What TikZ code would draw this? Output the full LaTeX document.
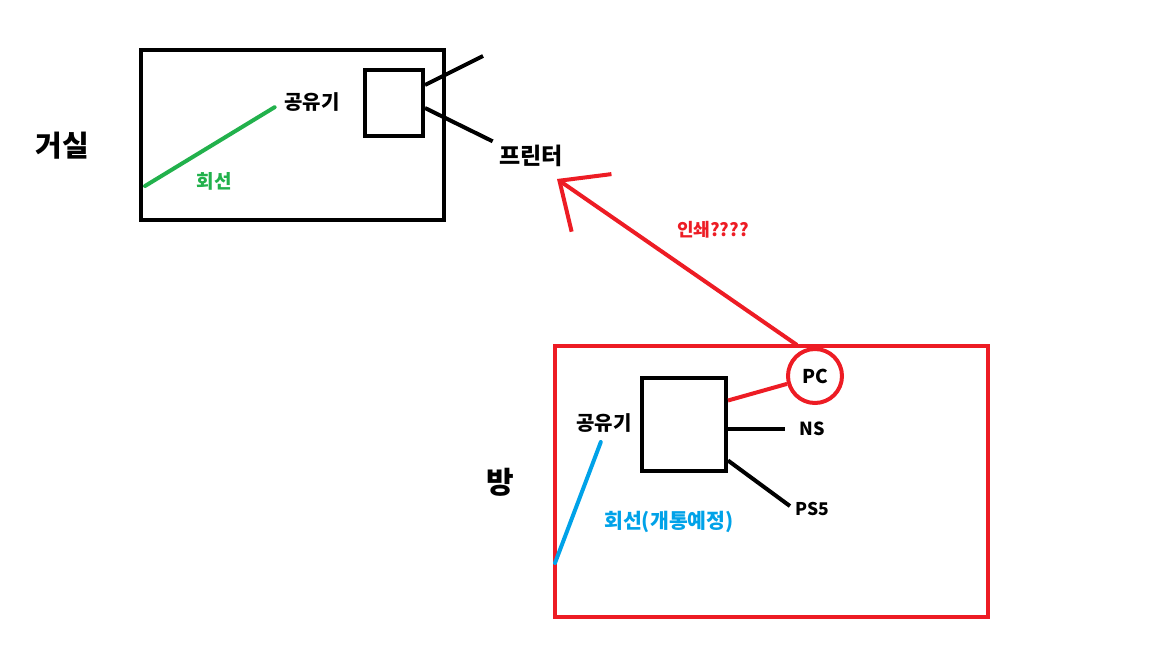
\documentclass[tikz,border=0pt]{standalone}
\usepackage{fontspec}
\setmainfont{Noto Sans CJK KR}
\usepackage{tikz}
\usetikzlibrary{arrows.meta}
\definecolor{paintred}{HTML}{ED1C24}
\definecolor{paintgreen}{HTML}{22B14C}
\definecolor{paintblue}{HTML}{00A2E8}
\tikzset{
  frame/.style={draw, line width=4pt, inner sep=0pt},
  txt/.style={inner sep=1pt, font=\bfseries\fontsize{19}{19}\selectfont},
  smalltxt/.style={inner sep=1pt, font=\bfseries\fontsize{17.5}{17.5}\selectfont},
  bigtxt/.style={inner sep=1pt, font=\bfseries\fontsize{29}{29}\selectfont},
  wire/.style={line width=4pt}
}
\begin{document}
\begin{tikzpicture}[x=1pt, y=-1pt]
\useasboundingbox (0,0) rectangle (1152,648);

% 거실
\node[bigtxt] (livingname) at (62.5,146) {거실};
\node[frame, minimum width=303pt, minimum height=170pt] (livingroom) at (292.5,135) {};
\node[frame, minimum width=58pt, minimum height=66pt] (router1) at (394,103) {};
\node[txt, font=\bfseries\fontsize{20}{20}\selectfont] (router1name) at (312,102) {공유기};
\node[txt, text=paintgreen] (line1name) at (214,181) {회선};
\node[txt, font=\bfseries\fontsize{23}{23}\selectfont] (printer) at (531,156) {프린터};
\coordinate (free1) at (483,56);
\coordinate (linestart1) at (145,186);

\draw[wire] ([yshift=18pt]router1.east) -- (free1);
\draw[wire, shorten >=6pt] ([yshift=-5pt]router1.east) -- (printer.north west);
\draw[wire, paintgreen, line cap=round, shorten >=10pt] (linestart1) -- (router1name.west);

% 방
\node[bigtxt, font=\bfseries\fontsize{30}{30}\selectfont] (roomname) at (500,482) {방};
\node[frame, draw=paintred, minimum width=433pt, minimum height=271pt] (room) at (771,481.5) {};
\node[frame, minimum width=84pt, minimum height=93pt] (router2) at (684,424.5) {};
\node[txt, font=\bfseries\fontsize{20}{20}\selectfont] (router2name) at (604,423) {공유기};
\node[frame, circle, draw=paintred, minimum size=54pt, font=\bfseries\fontsize{19}{19}\selectfont] (pc) at (815,376) {PC};
\node[smalltxt, font=\bfseries\fontsize{18}{18}\selectfont] (ns) at (812,429) {NS};
\node[smalltxt] (ps) at (812,509) {PS5};
\node[txt, text=paintblue, font=\bfseries\fontsize{20.5}{20.5}\selectfont] (line2name) at (669,522) {회선(개통예정)};
\coordinate (linestart2) at (555,563);

\draw[wire, paintred] ([yshift=24pt]router2.east) -- (pc);
\draw[wire, shorten >=13pt] (router2.east |- ns.west) -- (ns.west);
\draw[wire, shorten >=5pt] ([yshift=-36pt]router2.east) -- (ps.west);
\draw[wire, paintblue, line cap=round, shorten <=9pt] (router2name.south) -- (linestart2);

% 인쇄
\coordinate (printtail) at (797,345);
\coordinate (printhead) at (557,179);
\draw[wire, paintred, -{Straight Barb[length=39pt, width=70pt, line width=4pt]}] (printtail) -- (printhead);
\node[smalltxt, text=paintred, font=\bfseries\fontsize{18}{18}\selectfont] (printname) at (713,230) {인쇄????};
\end{tikzpicture}
\end{document}
